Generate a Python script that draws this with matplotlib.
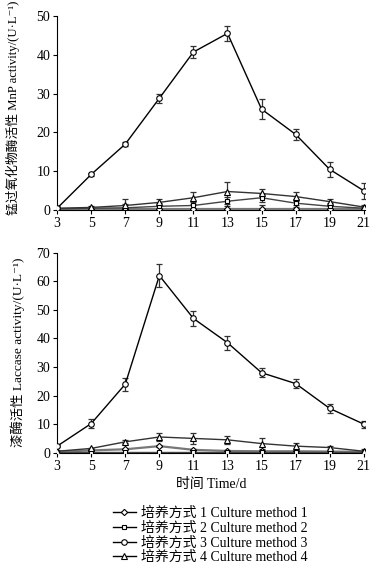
import matplotlib
matplotlib.use("Agg")
import matplotlib.pyplot as plt
import numpy as np
from matplotlib.lines import Line2D

plt.rcParams['font.family'] = ['Liberation Serif', 'Noto Sans CJK SC', 'DejaVu Serif']

days = [3, 5, 7, 9, 11, 13, 15, 17, 19, 21]
x_ticks = [3, 5, 7, 9, 11, 13, 15, 17, 19, 21]

# MnP activity (U/L)
mnp_m1 = [0.2, 0.2, 0.2, 0.2, 0.2, 0.2, 0.2, 0.2, 0.2, 0.2]
mnp_m1_err = [0.5, 0.3, 1.0, 0.8, 1.0, 1.5, 1.0, 1.0, 0.8, 0.5]
mnp_m2 = [0.3, 0.5, 0.6, 1.0, 1.2, 2.3, 3.2, 1.8, 1.0, 0.5]
mnp_m2_err = [0.5, 0.3, 1.0, 0.8, 1.0, 1.2, 1.0, 1.0, 0.8, 0.5]
mnp_m3 = [0.5, 9.2, 17.0, 28.8, 40.7, 45.5, 26.0, 19.5, 10.5, 5.0]
mnp_m3_err = [0.4, 0.3, 0.5, 1.2, 1.5, 2.0, 2.5, 1.5, 2.0, 2.0]
mnp_m4 = [0.5, 0.7, 1.2, 2.0, 3.2, 4.8, 4.3, 3.5, 2.2, 0.8]
mnp_m4_err = [0.5, 0.3, 1.8, 1.0, 1.5, 2.5, 1.2, 1.2, 0.8, 0.5]

# Laccase activity (U/L)
lac_m1 = [0.3, 0.8, 1.2, 2.3, 1.0, 0.6, 0.5, 0.5, 0.4, 0.3]
lac_m1_err = [0.2, 0.2, 0.2, 0.3, 0.3, 0.2, 0.2, 0.2, 0.2, 0.2]
lac_m2 = [0.2, 0.2, 0.2, 0.2, 0.2, 0.2, 0.2, 0.2, 0.2, 0.2]
lac_m2_err = [0.2, 0.2, 0.2, 0.2, 0.2, 0.2, 0.2, 0.2, 0.2, 0.2]
lac_m3 = [2.3, 10.2, 24.0, 62.0, 47.0, 38.5, 28.0, 24.2, 15.5, 10.0]
lac_m3_err = [0.3, 1.5, 2.3, 4.0, 2.5, 2.5, 1.5, 1.5, 1.5, 1.2]
lac_m4 = [0.5, 1.5, 3.8, 5.5, 5.0, 4.5, 3.2, 2.3, 1.8, 0.5]
lac_m4_err = [0.3, 0.3, 0.5, 1.5, 2.0, 1.5, 1.8, 1.2, 0.5, 0.8]

labels = ['培养方式 1 Culture method 1', '培养方式 2 Culture method 2',
          '培养方式 3 Culture method 3', '培养方式 4 Culture method 4']
markers = ['D', 's', 'o', '^']
msizes = [3.2, 3.5, 4, 4.2]
line_colors = ['#777777', '#444444', 'black', '#333333']

fig = plt.figure(figsize=(3.76, 5.68), dpi=100)
ax1 = fig.add_axes([0.152, 0.630, 0.82, 0.342])
ax2 = fig.add_axes([0.152, 0.203, 0.82, 0.352])

def draw(ax, series, errs, ymax, ystep):
    for i, (y, e) in enumerate(zip(series, errs)):
        ax.errorbar(days, y, yerr=e, fmt='none', ecolor='#333333', elinewidth=0.9,
                    capsize=2.5, capthick=0.9, zorder=2)
        ax.plot(days, y, color=line_colors[i], lw=1.0 if i != 0 else 1.6,
                marker=markers[i], ms=msizes[i], mfc='white', mec='black',
                mew=0.8, zorder=3 + (i == 2))
    ax.set_xlim(3, 21.1)
    ax.set_ylim(0, ymax)
    ax.set_xticks(x_ticks)
    ax.set_yticks(np.arange(0, ymax + 1, ystep))
    for s in ['top', 'right']:
        ax.spines[s].set_visible(False)
    for s in ['left', 'bottom']:
        ax.spines[s].set_linewidth(0.8)
    ax.tick_params(axis='both', direction='out', length=3, width=0.8,
                   labelsize=10, pad=2)

draw(ax1, [mnp_m1, mnp_m2, mnp_m3, mnp_m4],
     [mnp_m1_err, mnp_m2_err, mnp_m3_err, mnp_m4_err], 50, 10)
draw(ax2, [lac_m1, lac_m2, lac_m3, lac_m4],
     [lac_m1_err, lac_m2_err, lac_m3_err, lac_m4_err], 70, 10)

fig.text(13 / 376, 1 - 108 / 568, '锰过氧化物酶活性 MnP activity/(U·L⁻¹)',
         rotation=90, ha='center', va='center', fontsize=9.2)
fig.text(18 / 376, 1 - 352 / 568, '漆酶活性 Laccase activity/(U·L⁻¹)',
         rotation=90, ha='center', va='center', fontsize=9.6)
ax2.set_xlabel('时间 Time/d', fontsize=10, labelpad=4)

lh = [Line2D([], [], color='black', lw=1.0, marker=markers[i], ms=msizes[i],
             mfc='white', mec='black', mew=0.8) for i in range(4)]
fig.legend(lh, labels, loc='upper center', bbox_to_anchor=(0.56, 0.118),
           frameon=False, fontsize=10, handlelength=1.6, handletextpad=0.4,
           labelspacing=0.1, borderaxespad=0)

fig.savefig('out.png', dpi=100)
